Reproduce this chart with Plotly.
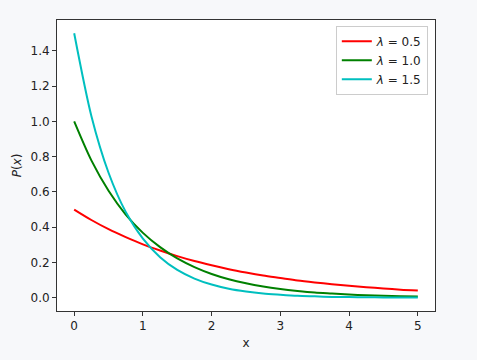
import plotly.graph_objects as go

x_vals = [0.0, 0.25, 0.5, 0.75, 1.0, 1.25, 1.5, 1.75, 2.0, 2.25, 2.5, 2.75,
          3.0, 3.25, 3.5, 3.75, 4.0, 4.25, 4.5, 4.75, 5.0]
p_lam05 = [0.500, 0.441, 0.389, 0.344, 0.303, 0.268, 0.236, 0.208, 0.184, 0.162, 0.143,
           0.126, 0.112, 0.098, 0.087, 0.077, 0.068, 0.060, 0.053, 0.046, 0.041]
p_lam10 = [1.000, 0.779, 0.607, 0.472, 0.368, 0.287, 0.223, 0.174, 0.135, 0.105, 0.082,
           0.064, 0.050, 0.039, 0.030, 0.024, 0.018, 0.014, 0.011, 0.009, 0.007]
p_lam15 = [1.500, 1.031, 0.709, 0.487, 0.335, 0.230, 0.158, 0.109, 0.075, 0.051, 0.035,
           0.024, 0.017, 0.011, 0.008, 0.005, 0.004, 0.003, 0.002, 0.001, 0.001]
series_names = ["<i>λ</i> = 0.5", "<i>λ</i> = 1.0", "<i>λ</i> = 1.5"]
colors = ["#ff0000", "#008000", "#00bfbf"]

fig = go.Figure()
for name, ys, c in zip(series_names, [p_lam05, p_lam10, p_lam15], colors):
    fig.add_trace(go.Scatter(x=x_vals, y=ys, mode="lines", name=name,
                             line=dict(color=c, width=2, shape="spline", smoothing=0.8)))

axis_common = dict(showgrid=False, zeroline=False, showline=True, mirror=True,
                   linecolor="#333333", linewidth=1, ticks="outside", ticklen=4,
                   tickcolor="#333333", tickfont=dict(size=12, color="#222"))
fig.update_xaxes(range=[-0.25, 5.25], tickvals=[0, 1, 2, 3, 4, 5],
                 title=dict(text="x", font=dict(size=12, color="#222"), standoff=6),
                 **axis_common)
fig.update_yaxes(range=[-0.075, 1.575], tickvals=[0, 0.2, 0.4, 0.6, 0.8, 1.0, 1.2, 1.4],
                 tickformat=".1f",
                 title=dict(text="<i>P</i>(<i>x</i>)", font=dict(size=12, color="#222"), standoff=6),
                 **axis_common)
fig.update_layout(
    width=477, height=360,
    margin=dict(l=57, r=42, t=20, b=47),
    paper_bgcolor="#f7f8fa", plot_bgcolor="#ffffff",
    font=dict(family="DejaVu Sans", size=12, color="#222"),
    legend=dict(x=0.981, y=0.98, xanchor="right", yanchor="top",
                bgcolor="rgba(255,255,255,0.9)", bordercolor="#cccccc", borderwidth=1,
                font=dict(size=12), itemwidth=30, tracegroupgap=0),
    showlegend=True,
)
fig.write_html("out.html")
